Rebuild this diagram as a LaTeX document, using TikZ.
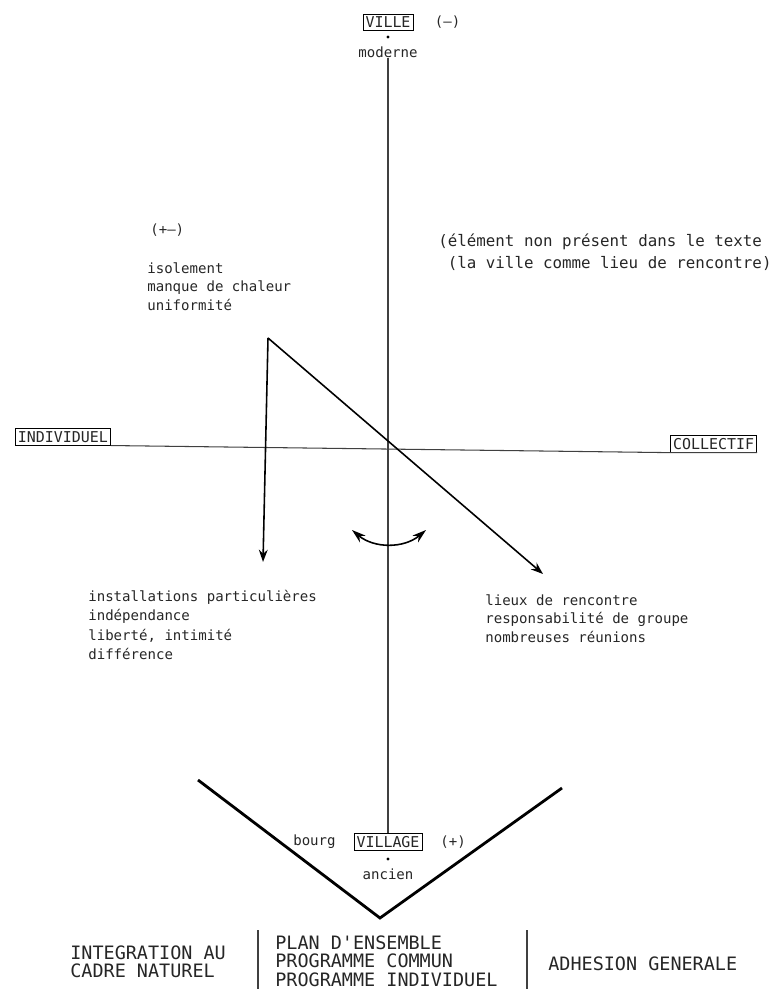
\documentclass[tikz,border=0pt]{standalone}
\usepackage{fontspec}
\newfontfamily\lettering{DejaVu Sans Mono}
\usetikzlibrary{arrows.meta, positioning}

\begin{document}
\begin{tikzpicture}[
    x=0.02cm, y=-0.02cm,
    every node/.style={font=\lettering, text=black!85},
    axbox/.style={draw, rectangle, inner sep=1.5pt, font=\lettering\fontsize{8.5}{9}\selectfont},
    small/.style={align=left, inner sep=0pt, font=\lettering\fontsize{8}{10.5}\selectfont},
    caps/.style={align=left, inner sep=0pt, font=\lettering\fontsize{10.5}{10.5}\selectfont},
    axis/.style={black!75, line width=0.6pt},
    arrow/.style={-{Stealth[length=7pt, width=5pt]}, line width=0.9pt}
]
\useasboundingbox (0,0) rectangle (773,989);

% Nodes
\node[axbox] (ville) at (388,22) {VILLE};
\node[small, right=12pt of ville] (villesign) {(–)};
\fill (388,37) circle (1.6) coordinate (villedot);
\node[small] (moderne) at (388,52) {moderne};

\node[axbox, anchor=west] (indiv) at (15,437) {INDIVIDUEL};
\node[axbox, anchor=east] (collectif) at (757,444) {COLLECTIF};

\node[axbox] (village) at (388,842) {VILLAGE};
\node[small, left=10pt of village] (bourg) {bourg};
\node[small, right=10pt of village] (villagesign) {(+)};
\fill (388,859) circle (1.6) coordinate (villagedot);
\node[small] (ancien) at (388,874) {ancien};

\node[small, anchor=west] (mixed) at (150,230) {(+–)};
\node[small, anchor=north west] (neg) at (147,262) {isolement\\manque de chaleur\\uniformité};
\node[small, anchor=north west, font=\lettering\fontsize{9}{12.5}\selectfont] (absent) at (438,234) {(élément non présent dans le texte\\\ (la ville comme lieu de rencontre)};

\node[small, anchor=north west, font=\lettering\fontsize{8}{11}\selectfont] (indivtext) at (88,590) {installations particulières\\indépendance\\liberté, intimité\\différence};
\node[small, anchor=north west] (colltext) at (485,594) {lieux de rencontre\\responsabilité de groupe\\nombreuses réunions};

\node[caps, anchor=west] (integ) at (70,962) {INTEGRATION AU\\CADRE NATUREL};
\node[caps, anchor=west] (plan) at (275,961) {PLAN D'ENSEMBLE\\PROGRAMME COMMUN\\PROGRAMME INDIVIDUEL};
\node[caps, anchor=west] (adhesion) at (548,964) {ADHESION GENERALE};

% Axes
\draw[axis] (moderne.south) -- (village.north);
\draw[axis] (indiv.south east) -- (collectif.south west) -- (collectif.south east);

% Arrows
\coordinate (top) at (268,338);
\coordinate (indivend) at (263,562);
\coordinate (collend) at (543,574);
\draw[arrow] (top) -- (indivend);
\draw[arrow] (top) -- (collend);

% Swing arrow round the axis
\coordinate (swingl) at (352,530);
\coordinate (swingr) at (426,530);
\draw[{Stealth[length=8pt, width=5pt]}-{Stealth[length=8pt, width=5pt]}, line width=0.9pt] (swingl) to[bend right=40] (swingr);

% Bowl
\coordinate (bowll) at (198,780);
\coordinate (bowlb) at (380,918);
\coordinate (bowlr) at (562,788);
\draw[line width=1.6pt, line join=miter] (bowll) -- (bowlb) -- (bowlr);

% Separators
\draw[axis] (258,930) -- (258,989);
\draw[axis] (527,930) -- (527,989);

\end{tikzpicture}
\end{document}
